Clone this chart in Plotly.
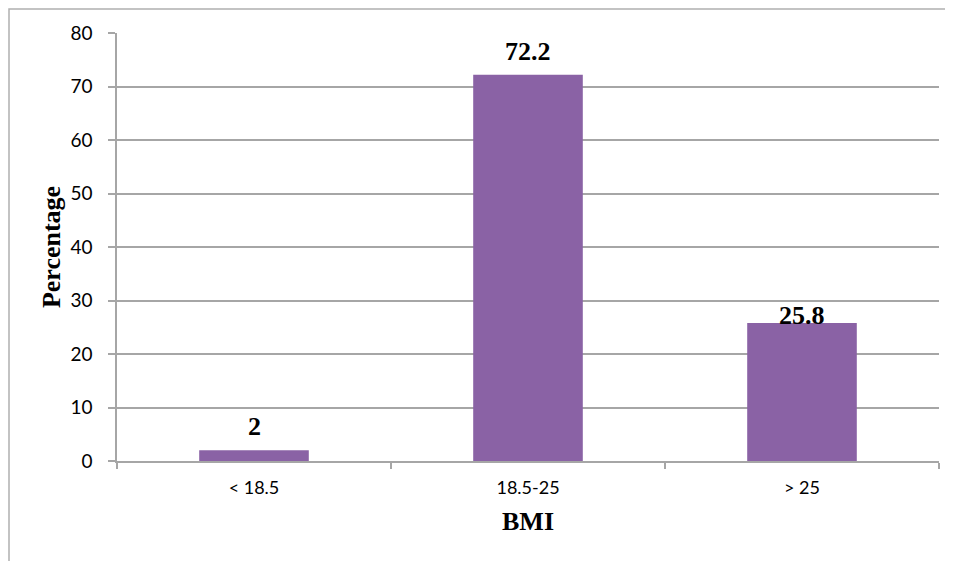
import plotly.graph_objects as go

categories = ["< 18.5", "18.5-25", "> 25"]
percentages = [2, 72.2, 25.8]
label_texts = ["2", "72.2", "25.8"]
label_shifts = [7, 7, -9]

BAR_COLOR = "#8a62a5"
GRID = "#a6a6a6"

# page has an 8px body margin; figure is sized/offset to compensate
W, H = 945, 553
L, R, T, B = 109, 14, 25, 100
PW, PH = W - L - R, H - T - B

fig = go.Figure()
fig.add_trace(go.Bar(
    x=categories, y=percentages,
    marker=dict(color=BAR_COLOR, line=dict(width=0)),
    width=0.4,
    hoverinfo="x+y",
))

for c, v, t, s in zip(categories, percentages, label_texts, label_shifts):
    fig.add_annotation(
        x=c, y=v, text=t, showarrow=False, yanchor="bottom", yshift=s,
        font=dict(family="Liberation Serif", size=26, color="black", weight="bold"),
    )

fig.update_layout(
    width=W, height=H,
    margin=dict(l=L, r=R, t=T, b=B),
    paper_bgcolor="white", plot_bgcolor="white",
    showlegend=False,
    bargap=0.6,
    xaxis=dict(
        showline=True, linecolor=GRID, linewidth=1.5,
        ticks="outside", tickson="boundaries", ticklen=6, tickcolor=GRID, tickwidth=1.5,
        tickfont=dict(family="Lato", size=18, color="black"),
        ticklabelstandoff=10,
        title=dict(text="BMI", font=dict(family="Liberation Serif", size=26, color="black", weight="bold"), standoff=14),
        showgrid=False,
    ),
    yaxis=dict(
        range=[0, 80], dtick=10,
        showline=True, linecolor=GRID, linewidth=1.5,
        ticks="outside", ticklen=7, tickcolor=GRID, tickwidth=1.5,
        showgrid=True, gridcolor=GRID, gridwidth=1.5,
        zeroline=False,
        tickfont=dict(family="Lato", size=19, color="black"),
        ticklabelstandoff=12,
        title=dict(text="Percentage", font=dict(family="Liberation Serif", size=26, color="black", weight="bold"), standoff=2),
    ),
    shapes=[dict(
        type="rect", xref="paper", yref="paper",
        x0=(1 - L) / PW, x1=1.2, y0=-0.5, y1=(PH + T - 1) / PH,
        line=dict(color="#b0b0b0", width=1.5), layer="below",
    )],
)

fig.write_html("out.html")
